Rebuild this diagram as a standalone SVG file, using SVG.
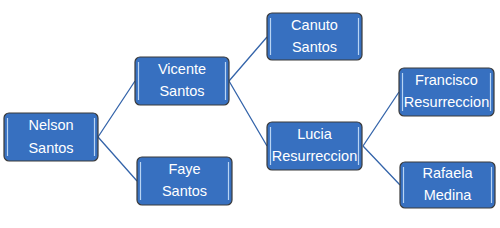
<svg xmlns="http://www.w3.org/2000/svg" width="500" height="228" viewBox="0 0 500 228">
<style>
.box{fill:#3770c0;stroke:#3a3a3a;stroke-width:1.2}
.hl{stroke:#b8d4f4;stroke-width:1.2}
.t{font-family:"Liberation Sans",Arial,sans-serif;font-size:14.5px;fill:#ffffff;text-anchor:middle}
.c{stroke:#3464aa;stroke-width:1.3;fill:none}
</style>
<rect width="500" height="228" fill="#ffffff"/>
<g id="connectors">
<path class="c" d="M98,137 L135,81 M98,137 L137,181 M229,81 L267,37 M229,81 L267,146 M363,146 L399,92 M363,146 L400,185"/>
</g>
<g id="nelson">
<rect class="box" x="4" y="113" width="94" height="48" rx="5"/>
<path class="hl" d="M7.5,118 V156 M94.5,118 V156"/>
<text class="t" x="51" y="129.5">Nelson</text>
<text class="t" x="51" y="153">Santos</text>
</g>
<g id="vicente">
<rect class="box" x="135" y="57" width="94" height="48" rx="5"/>
<path class="hl" d="M138.5,62 V100 M225.5,62 V100"/>
<text class="t" x="182" y="74">Vicente</text>
<text class="t" x="182" y="96">Santos</text>
</g>
<g id="faye">
<rect class="box" x="137" y="157" width="95" height="48" rx="5"/>
<path class="hl" d="M140.5,162 V200 M228.5,162 V200"/>
<text class="t" x="184.5" y="174">Faye</text>
<text class="t" x="184.5" y="196">Santos</text>
</g>
<g id="canuto">
<rect class="box" x="267" y="13" width="95" height="47" rx="5"/>
<path class="hl" d="M270.5,18 V55 M358.5,18 V55"/>
<text class="t" x="314.5" y="30">Canuto</text>
<text class="t" x="314.5" y="52">Santos</text>
</g>
<g id="lucia">
<rect class="box" x="267" y="122" width="95" height="48" rx="5"/>
<path class="hl" d="M270.5,127 V165 M358.5,127 V165"/>
<text class="t" x="314.5" y="139">Lucia</text>
<text class="t" x="314.5" y="161">Resurreccion</text>
</g>
<g id="francisco">
<rect class="box" x="399" y="68" width="95" height="48" rx="5"/>
<path class="hl" d="M402.5,73 V111 M490.5,73 V111"/>
<text class="t" x="446.5" y="85">Francisco</text>
<text class="t" x="446.5" y="107">Resurreccion</text>
</g>
<g id="rafaela">
<rect class="box" x="400" y="162" width="95" height="46" rx="5"/>
<path class="hl" d="M403.5,167 V203 M491.5,167 V203"/>
<text class="t" x="447.5" y="178">Rafaela</text>
<text class="t" x="447.5" y="200">Medina</text>
</g>
</svg>
